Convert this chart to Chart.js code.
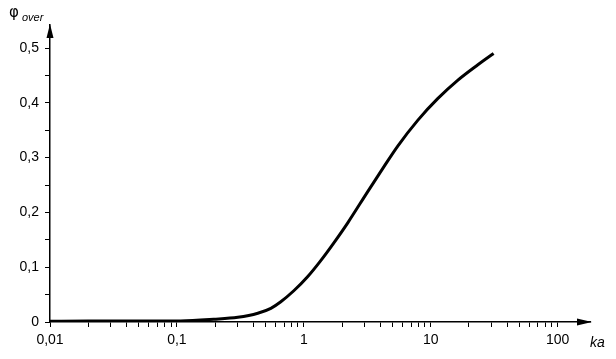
<!DOCTYPE html>
<html>
<head>
<meta charset="utf-8">
<script src="https://cdn.jsdelivr.net/npm/chart.js@4.4.1/dist/chart.umd.min.js"></script>
<style>
  html, body { margin: 0; padding: 0; background: #fff; }
  #wrap { width: 616px; height: 359px; }
</style>
</head>
<body>
<div id="wrap"><canvas id="c" width="616" height="359"></canvas></div>
<script>
// ---- data ----
const kaValues  = [0.01, 0.02, 0.05, 0.107, 0.195, 0.302, 0.434, 0.55, 0.659, 0.834, 1.075, 1.36, 1.72, 2.22, 3.19, 4.27, 5.5, 7.9, 11.4, 16.3, 23.4, 31.3];
const phiValues = [0.0015, 0.0016, 0.0018, 0.002, 0.005, 0.0086, 0.016, 0.025, 0.037, 0.057, 0.083, 0.112, 0.144, 0.181, 0.238, 0.283, 0.321, 0.368, 0.408, 0.441, 0.469, 0.490];
const xTickValues = [0.01, 0.1, 1, 10, 100];
const xTickLabels = ['0,01', '0,1', '1', '10', '100'];
const yTickValues = [0, 0.1, 0.2, 0.3, 0.4, 0.5];
const yTickLabels = ['0', '0,1', '0,2', '0,3', '0,4', '0,5'];
const xAxisTitle = 'ka';
const yAxisTitle = 'φ';
const yAxisTitleSub = 'over';

const FONT = '"Liberation Sans", Arial, sans-serif';

// minor/major tick lists built from the tick values
const xAllTicks = [];
for (let d = 0; d < xTickValues.length; d++) {
  const base = xTickValues[d];
  xAllTicks.push(base);
  if (d < xTickValues.length - 1) {
    for (let m = 2; m <= 9; m++) xAllTicks.push(base * m);
  }
}
const yAllTicks = [];
for (let i = 0; i < yTickValues.length; i++) {
  yAllTicks.push(yTickValues[i]);
  if (i < yTickValues.length - 1) yAllTicks.push((yTickValues[i] + yTickValues[i + 1]) / 2);
}

const arrowsAndTitles = {
  id: 'arrowsAndTitles',
  afterDraw(chart) {
    const ctx = chart.ctx;
    const a = chart.chartArea;
    ctx.save();
    ctx.fillStyle = '#000';
    // x arrow
    ctx.beginPath();
    ctx.moveTo(a.right + 2, a.bottom);
    ctx.lineTo(a.right - 13, a.bottom - 3.5);
    ctx.lineTo(a.right - 13, a.bottom + 3.5);
    ctx.closePath();
    ctx.fill();
    // y arrow
    ctx.beginPath();
    ctx.moveTo(a.left, a.top - 1);
    ctx.lineTo(a.left - 3.5, a.top + 13);
    ctx.lineTo(a.left + 3.5, a.top + 13);
    ctx.closePath();
    ctx.fill();
    // titles
    ctx.textAlign = 'left';
    ctx.textBaseline = 'alphabetic';
    ctx.font = 'italic 14px ' + FONT;
    ctx.fillText(xAxisTitle, 590, 347);
    ctx.font = '15px "DejaVu Sans", ' + FONT;
    ctx.fillText(yAxisTitle, 9, 17);
    ctx.font = 'italic 11px ' + FONT;
    ctx.fillText(yAxisTitleSub, 22, 21);
    ctx.restore();
  }
};

new Chart(document.getElementById('c'), {
  type: 'line',
  data: {
    datasets: [{
      data: kaValues.map((k, i) => ({ x: k, y: phiValues[i] })),
      borderColor: '#000',
      borderWidth: 3,
      pointRadius: 0,
      fill: false,
      cubicInterpolationMode: 'monotone'
    }]
  },
  options: {
    responsive: false,
    animation: false,
    devicePixelRatio: 1,
    layout: { padding: { left: 0, right: 26, top: 25, bottom: 0 } },
    plugins: { legend: { display: false }, tooltip: { enabled: false } },
    scales: {
      x: {
        type: 'logarithmic',
        min: 0.01,
        max: 180,
        afterBuildTicks(scale) { scale.ticks = xAllTicks.map(v => ({ value: v })); },
        afterFit(scale) { scale.height = 37; },
        grid: { display: true, drawOnChartArea: false, drawTicks: true, tickLength: 5, color: '#000', lineWidth: 1 },
        border: { display: true, color: '#000', width: 1.5 },
        ticks: {
          autoSkip: false, maxRotation: 0, padding: 5, color: '#000',
          font: { family: FONT, size: 14 },
          callback(value) {
            const i = xTickValues.findIndex(t => Math.abs(t - value) / t < 1e-6);
            return i >= 0 ? xTickLabels[i] : '';
          }
        }
      },
      y: {
        type: 'linear',
        min: 0,
        max: 0.542,
        afterBuildTicks(scale) { scale.ticks = yAllTicks.map(v => ({ value: v })); },
        afterFit(scale) { scale.width = 50; },
        grid: { display: true, drawOnChartArea: false, drawTicks: true, tickLength: 5, color: '#000', lineWidth: 1 },
        border: { display: true, color: '#000', width: 1.5 },
        ticks: {
          autoSkip: false, padding: 6, color: '#000',
          font: { family: FONT, size: 14 },
          callback(value) {
            const i = yTickValues.findIndex(t => Math.abs(t - value) < 1e-6);
            return i >= 0 ? yTickLabels[i] : '';
          }
        }
      }
    }
  },
  plugins: [arrowsAndTitles]
});
</script>
</body>
</html>
